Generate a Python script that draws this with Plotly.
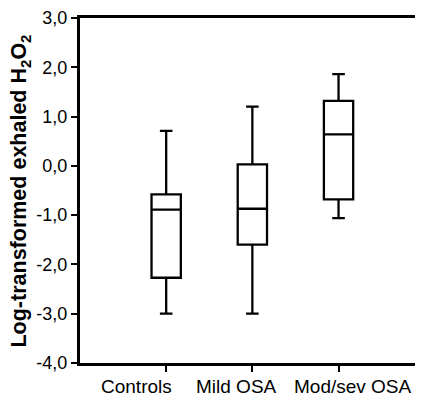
import plotly.graph_objects as go

categories = ["Controls", "Mild OSA", "Mod/sev OSA"]
lower_whisker = [-3.0, -3.0, -1.06]
q1_values = [-2.27, -1.60, -0.68]
median_values = [-0.89, -0.87, 0.64]
q3_values = [-0.58, 0.03, 1.32]
upper_whisker = [0.71, 1.20, 1.86]

y_tick_vals = [-4, -3, -2, -1, 0, 1, 2, 3]
y_tick_text = ["-4,0", "-3,0", "-2,0", "-1,0", "0,0", "1,0", "2,0", "3,0"]

# horizontal nudges of the category labels (SPSS spreads them to avoid overlap)
label_shift = [-30, -16, 14]

FONT = "Liberation Sans, Arial, sans-serif"

fig = go.Figure()
fig.add_trace(go.Box(
    x=categories,
    q1=q1_values,
    median=median_values,
    q3=q3_values,
    lowerfence=lower_whisker,
    upperfence=upper_whisker,
    fillcolor="white",
    line=dict(color="black", width=2.3),
    width=0.34,
    whiskerwidth=0.43,
    boxpoints=False,
    hoverinfo="skip",
))

annotations = [dict(
    text="<b>Log-transformed exhaled H<sub>2</sub>O<sub>2</sub></b>",
    textangle=-90, xref="paper", yref="paper",
    x=-59/343, y=0.497, xanchor="center", yanchor="middle",
    showarrow=False, font=dict(size=21.5, family=FONT, color="black"),
)]
for cat, dx in zip(categories, label_shift):
    annotations.append(dict(
        text=cat, xref="x", yref="paper", x=cat, y=0,
        xanchor="center", yanchor="top", xshift=dx, yshift=-11,
        showarrow=False, font=dict(size=19, family=FONT, color="black"),
    ))

fig.update_layout(
    width=415, height=388,
    margin=dict(l=72, r=0, t=10, b=33),
    paper_bgcolor="white", plot_bgcolor="white",
    showlegend=False,
    font=dict(family=FONT, color="black"),
    xaxis=dict(
        range=[-1, 2.98], showline=True, linecolor="black", linewidth=3,
        mirror=True, ticks="outside", ticklen=6, tickwidth=2, tickcolor="black",
        showgrid=False, zeroline=False, showticklabels=False, automargin=False,
        categoryorder="array", categoryarray=categories,
    ),
    yaxis=dict(
        range=[-4, 3], showline=True, linecolor="black", linewidth=3,
        ticks="outside", ticklen=6, tickwidth=2, tickcolor="black",
        tickvals=y_tick_vals, ticktext=y_tick_text, automargin=False,
        showgrid=False, zeroline=False, tickfont=dict(size=18, family=FONT),
    ),
    annotations=annotations,
)

fig.write_html("out.html")
